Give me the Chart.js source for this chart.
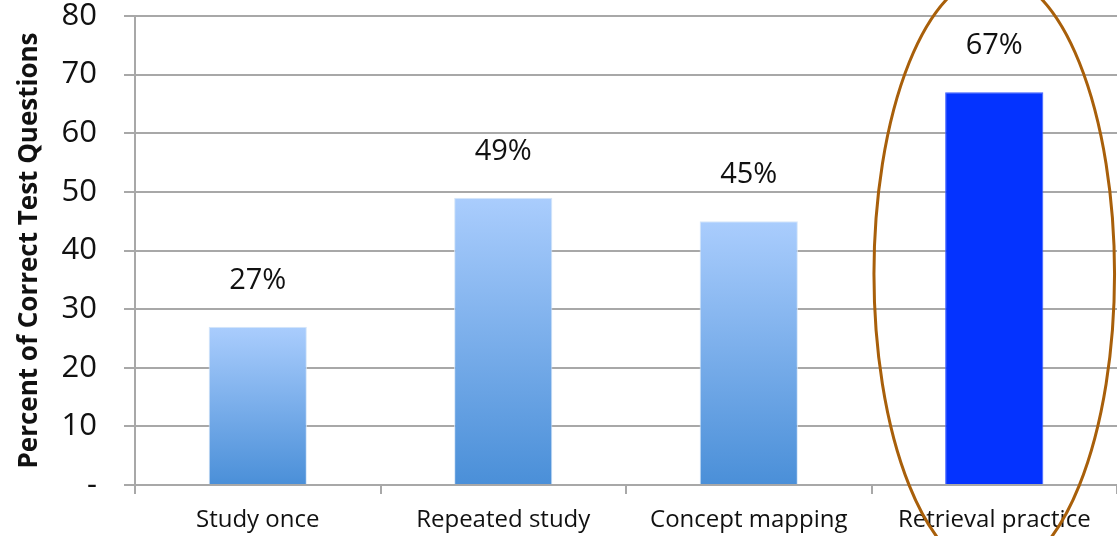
<!DOCTYPE html>
<html>
<head>
<meta charset="utf-8">
<script src="https://cdn.jsdelivr.net/npm/chart.js@4"></script>
<style>
  html, body { margin: 0; padding: 0; background: #fff; }
  #wrap { width: 1117px; height: 536px; }
</style>
</head>
<body>
<div id="wrap"><canvas id="chart" width="1117" height="536"></canvas></div>
<script>
// === DATA ===
const categories = ['Study once', 'Repeated study', 'Concept mapping', 'Retrieval practice'];
const percentCorrect = [27, 49, 45, 67];
const valueLabels = ['27%', '49%', '45%', '67%'];
const yTicks = [0, 10, 20, 30, 40, 50, 60, 70, 80];
const highlightIndex = 3;

const FONT = '"Open Sans", "Liberation Sans", sans-serif';
const GRID = '#a8a8a8';

// gradient fill for the plain bars, solid blue for the highlighted one
function barFill(ctx) {
    const chart = ctx.chart;
    if (ctx.dataIndex === highlightIndex) return '#0433ff';
    const area = chart.chartArea;
    if (!area) return '#7fb0ee';
    const y = chart.scales.y;
    const g = chart.ctx.createLinearGradient(0, y.getPixelForValue(ctx.raw), 0, area.bottom);
    g.addColorStop(0, '#aacdfd');
    g.addColorStop(1, '#4a8fd8');
    return g;
}

// value labels above the bars
const valueLabelPlugin = {
    id: 'valueLabels',
    afterDatasetsDraw(chart) {
        const ctx = chart.ctx;
        const meta = chart.getDatasetMeta(0);
        ctx.save();
        ctx.font = '29px ' + FONT;
        ctx.fillStyle = '#111';
        ctx.textAlign = 'center';
        ctx.textBaseline = 'middle';
        meta.data.forEach((bar, i) => {
            ctx.fillText(valueLabels[i], bar.x, bar.y - 46);
        });
        ctx.restore();
    }
};

// hand-drawn style ellipse round the highlighted category
const ellipsePlugin = {
    id: 'highlightEllipse',
    afterDraw(chart) {
        const x = chart.scales.x, y = chart.scales.y;
        const cx = x.getPixelForValue(highlightIndex);
        const rx = (x.width / categories.length) * 0.49;
        const cy = y.getPixelForValue(36);
        const ry = y.getPixelForValue(0) - y.getPixelForValue(51);
        const ctx = chart.ctx;
        ctx.save();
        ctx.beginPath();
        ctx.ellipse(cx, cy, rx, ry, 0, 0, Math.PI * 2);
        ctx.strokeStyle = '#a85f0a';
        ctx.lineWidth = 3;
        ctx.stroke();
        ctx.restore();
    }
};

new Chart(document.getElementById('chart'), {
    type: 'bar',
    data: {
        labels: categories,
        datasets: [{
            data: percentCorrect,
            backgroundColor: barFill,
            borderColor: ctx => ctx.dataIndex === highlightIndex ? '#3b5cff' : '#d6e6f8',
            borderWidth: 1,
            categoryPercentage: 1,
            barPercentage: 0.4
        }]
    },
    options: {
        responsive: false,
        animation: false,
        layout: { padding: 0 },
        plugins: {
            legend: { display: false },
            tooltip: { enabled: false }
        },
        scales: {
            x: {
                grid: {
                    offset: true,
                    drawOnChartArea: false,
                    drawTicks: true,
                    tickLength: 9,
                    color: GRID,
                    lineWidth: 2
                },
                border: { color: GRID, width: 2 },
                ticks: {
                    font: { family: FONT, size: 24, lineHeight: 1 },
                    color: '#111',
                    padding: 14,
                    maxRotation: 0
                },
                afterFit(scale) {
                    scale.height = 51;
                    scale.paddingLeft = 0;
                    scale.paddingRight = 0;
                }
            },
            y: {
                min: 0,
                max: 80,
                afterBuildTicks(scale) { scale.ticks = yTicks.map(v => ({ value: v })); },
                grid: { color: GRID, lineWidth: 2, tickLength: 11 },
                border: { color: GRID, width: 2 },
                ticks: {
                    font: { family: FONT, size: 31, lineHeight: 1.05 },
                    color: '#111',
                    padding: 27,
                    callback: v => v === 0 ? '-' : v
                },
                title: {
                    display: true,
                    text: 'Percent of Correct Test Questions',
                    font: { family: FONT, size: 26, weight: 'bold' },
                    color: '#111',
                    padding: { top: 14, bottom: 0 }
                },
                afterFit(scale) {
                    scale.width = 135;
                    scale.paddingTop = 16;
                    scale.paddingBottom = 0;
                }
            }
        }
    },
    plugins: [valueLabelPlugin, ellipsePlugin]
});
</script>
</body>
</html>
